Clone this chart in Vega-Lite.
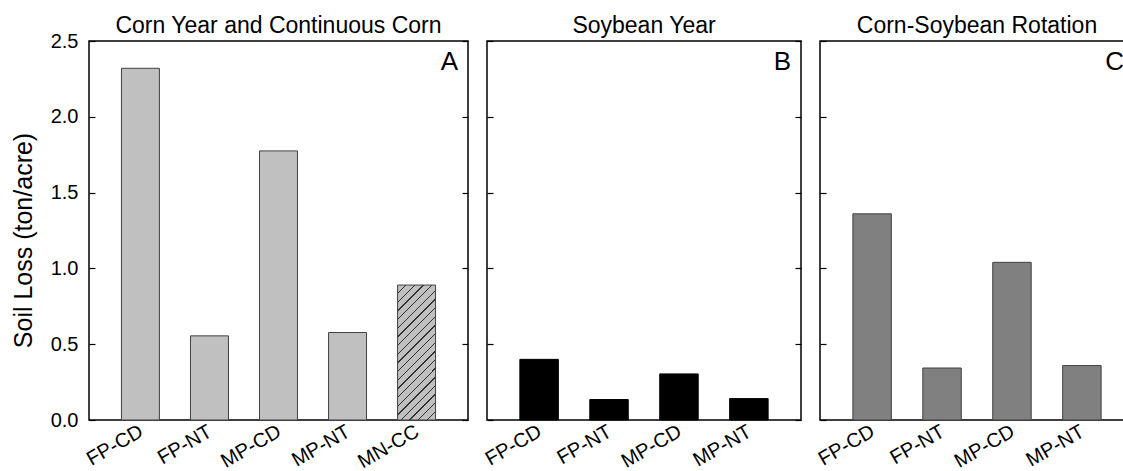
{
  "$schema": "https://vega.github.io/schema/vega-lite/v6.json",
  "padding": {"left": 10, "top": 14, "right": 0, "bottom": 0},
  "bounds": "flush",
  "spacing": 19,
  "config": {
    "font": "Liberation Sans",
    "view": {"stroke": "black", "strokeWidth": 1.5},
    "axis": {"grid": false, "domain": false, "labelColor": "black", "tickColor": "black", "tickWidth": 1.2, "labelFont": "Liberation Sans", "titleFont": "Liberation Sans"},
    "axisX": {"labelAngle": -30, "labelFontSize": 20, "ticks": false, "labelPadding": 1, "labelOffset": -4, "title": null},
    "title": {"fontSize": 23, "fontWeight": "normal", "font": "Liberation Sans", "color": "black", "offset": -7, "baseline": "alphabetic", "frame": "group"}
  },
  "datasets": {
    "soil": [
      {"panel": "A", "treatment": "FP-CD", "loss": 2.32},
      {"panel": "A", "treatment": "FP-NT", "loss": 0.555},
      {"panel": "A", "treatment": "MP-CD", "loss": 1.775},
      {"panel": "A", "treatment": "MP-NT", "loss": 0.577},
      {"panel": "A", "treatment": "MN-CC", "loss": 0.89},
      {"panel": "B", "treatment": "FP-CD", "loss": 0.40},
      {"panel": "B", "treatment": "FP-NT", "loss": 0.135},
      {"panel": "B", "treatment": "MP-CD", "loss": 0.304},
      {"panel": "B", "treatment": "MP-NT", "loss": 0.141},
      {"panel": "C", "treatment": "FP-CD", "loss": 1.36},
      {"panel": "C", "treatment": "FP-NT", "loss": 0.343},
      {"panel": "C", "treatment": "MP-CD", "loss": 1.04},
      {"panel": "C", "treatment": "MP-NT", "loss": 0.359}
    ]
  },
  "hconcat": [
    {
      "width": 379, "height": 379,
      "title": {"text": "Corn Year and Continuous Corn"},
      "layer": [
        {
          "data": {"name": "soil"},
          "transform": [{"filter": "datum.panel === 'A'"}],
          "mark": {"type": "bar", "stroke": "#404040", "strokeWidth": 1},
          "encoding": {
            "x": {"field": "treatment", "type": "nominal", "sort": null, "scale": {"paddingInner": 0.45, "paddingOuter": 0.47}, "axis": {"title": null}},
            "y": {"field": "loss", "type": "quantitative", "scale": {"domain": [0, 2.5], "nice": false}, "axis": {"title": "Soil Loss (ton/acre)", "titleFontSize": 25, "titleFontWeight": "normal", "titleColor": "black", "titlePadding": 14, "titleY": 199, "labelFontSize": 20, "format": ".1f", "values": [0, 0.5, 1, 1.5, 2, 2.5], "tickSize": -6, "labelPadding": 17}},
            "fill": {
              "condition": {
                "test": "datum.treatment === 'MN-CC'",
                "value": {"gradient": "linear", "x1": 0, "y1": 0, "x2": 0.3343, "y2": 1.1875, "stops": [
                  {"offset": 0, "color": "#c0c0c0"},
                  {"offset": 0.046, "color": "#c0c0c0"}, {"offset": 0.046, "color": "#303030"}, {"offset": 0.054, "color": "#303030"}, {"offset": 0.054, "color": "#c0c0c0"},
                  {"offset": 0.096, "color": "#c0c0c0"}, {"offset": 0.096, "color": "#303030"}, {"offset": 0.104, "color": "#303030"}, {"offset": 0.104, "color": "#c0c0c0"},
                  {"offset": 0.146, "color": "#c0c0c0"}, {"offset": 0.146, "color": "#303030"}, {"offset": 0.154, "color": "#303030"}, {"offset": 0.154, "color": "#c0c0c0"},
                  {"offset": 0.196, "color": "#c0c0c0"}, {"offset": 0.196, "color": "#303030"}, {"offset": 0.204, "color": "#303030"}, {"offset": 0.204, "color": "#c0c0c0"},
                  {"offset": 0.246, "color": "#c0c0c0"}, {"offset": 0.246, "color": "#303030"}, {"offset": 0.254, "color": "#303030"}, {"offset": 0.254, "color": "#c0c0c0"},
                  {"offset": 0.296, "color": "#c0c0c0"}, {"offset": 0.296, "color": "#303030"}, {"offset": 0.304, "color": "#303030"}, {"offset": 0.304, "color": "#c0c0c0"},
                  {"offset": 0.346, "color": "#c0c0c0"}, {"offset": 0.346, "color": "#303030"}, {"offset": 0.354, "color": "#303030"}, {"offset": 0.354, "color": "#c0c0c0"},
                  {"offset": 0.396, "color": "#c0c0c0"}, {"offset": 0.396, "color": "#303030"}, {"offset": 0.404, "color": "#303030"}, {"offset": 0.404, "color": "#c0c0c0"},
                  {"offset": 0.446, "color": "#c0c0c0"}, {"offset": 0.446, "color": "#303030"}, {"offset": 0.454, "color": "#303030"}, {"offset": 0.454, "color": "#c0c0c0"},
                  {"offset": 0.496, "color": "#c0c0c0"}, {"offset": 0.496, "color": "#303030"}, {"offset": 0.504, "color": "#303030"}, {"offset": 0.504, "color": "#c0c0c0"},
                  {"offset": 0.546, "color": "#c0c0c0"}, {"offset": 0.546, "color": "#303030"}, {"offset": 0.554, "color": "#303030"}, {"offset": 0.554, "color": "#c0c0c0"},
                  {"offset": 0.596, "color": "#c0c0c0"}, {"offset": 0.596, "color": "#303030"}, {"offset": 0.604, "color": "#303030"}, {"offset": 0.604, "color": "#c0c0c0"},
                  {"offset": 0.646, "color": "#c0c0c0"}, {"offset": 0.646, "color": "#303030"}, {"offset": 0.654, "color": "#303030"}, {"offset": 0.654, "color": "#c0c0c0"},
                  {"offset": 0.696, "color": "#c0c0c0"}, {"offset": 0.696, "color": "#303030"}, {"offset": 0.704, "color": "#303030"}, {"offset": 0.704, "color": "#c0c0c0"},
                  {"offset": 0.746, "color": "#c0c0c0"}, {"offset": 0.746, "color": "#303030"}, {"offset": 0.754, "color": "#303030"}, {"offset": 0.754, "color": "#c0c0c0"},
                  {"offset": 0.796, "color": "#c0c0c0"}, {"offset": 0.796, "color": "#303030"}, {"offset": 0.804, "color": "#303030"}, {"offset": 0.804, "color": "#c0c0c0"},
                  {"offset": 0.846, "color": "#c0c0c0"}, {"offset": 0.846, "color": "#303030"}, {"offset": 0.854, "color": "#303030"}, {"offset": 0.854, "color": "#c0c0c0"},
                  {"offset": 0.896, "color": "#c0c0c0"}, {"offset": 0.896, "color": "#303030"}, {"offset": 0.904, "color": "#303030"}, {"offset": 0.904, "color": "#c0c0c0"},
                  {"offset": 0.946, "color": "#c0c0c0"}, {"offset": 0.946, "color": "#303030"}, {"offset": 0.954, "color": "#303030"}, {"offset": 0.954, "color": "#c0c0c0"},
                  {"offset": 1, "color": "#c0c0c0"}
                ]}
              },
              "value": "#c0c0c0"
            }
          }
        },
        {
          "data": {"values": [{"label": "A"}]},
          "mark": {"type": "text", "align": "right", "baseline": "top", "fontSize": 26, "dx": -10, "dy": 8, "color": "black"},
          "encoding": {
            "x": {"value": "width"},
            "y": {"datum": 2.5, "type": "quantitative", "axis": {"orient": "right", "labels": false, "title": null, "values": [0, 0.5, 1, 1.5, 2, 2.5], "tickSize": -6}},
            "text": {"field": "label", "type": "nominal"}
          }
        }
      ],
      "resolve": {"axis": {"y": "independent"}}
    },
    {
      "width": 314, "height": 379,
      "title": {"text": "Soybean Year"},
      "layer": [
        {
          "data": {"name": "soil"},
          "transform": [{"filter": "datum.panel === 'B'"}],
          "mark": {"type": "bar", "fill": "black", "stroke": "black", "strokeWidth": 1},
          "encoding": {
            "x": {"field": "treatment", "type": "nominal", "sort": null, "scale": {"paddingInner": 0.45, "paddingOuter": 0.47}, "axis": {"title": null}},
            "y": {"field": "loss", "type": "quantitative", "scale": {"domain": [0, 2.5], "nice": false}, "axis": {"title": null, "labelOpacity": 0, "labelFontSize": 20, "format": ".1f", "labelPadding": 17, "values": [0, 0.5, 1, 1.5, 2, 2.5], "tickSize": -6}}
          }
        },
        {
          "data": {"values": [{"label": "B"}]},
          "mark": {"type": "text", "align": "right", "baseline": "top", "fontSize": 26, "dx": -10, "dy": 8, "color": "black"},
          "encoding": {
            "x": {"value": "width"},
            "y": {"datum": 2.5, "type": "quantitative", "axis": {"orient": "right", "labels": false, "title": null, "values": [0, 0.5, 1, 1.5, 2, 2.5], "tickSize": -6}},
            "text": {"field": "label", "type": "nominal"}
          }
        }
      ],
      "resolve": {"axis": {"y": "independent"}}
    },
    {
      "width": 314, "height": 379,
      "title": {"text": "Corn-Soybean Rotation"},
      "layer": [
        {
          "data": {"name": "soil"},
          "transform": [{"filter": "datum.panel === 'C'"}],
          "mark": {"type": "bar", "fill": "#808080", "stroke": "#404040", "strokeWidth": 1},
          "encoding": {
            "x": {"field": "treatment", "type": "nominal", "sort": null, "scale": {"paddingInner": 0.45, "paddingOuter": 0.47}, "axis": {"title": null}},
            "y": {"field": "loss", "type": "quantitative", "scale": {"domain": [0, 2.5], "nice": false}, "axis": {"title": null, "labelOpacity": 0, "labelFontSize": 20, "format": ".1f", "labelPadding": 17, "values": [0, 0.5, 1, 1.5, 2, 2.5], "tickSize": -6}}
          }
        },
        {
          "data": {"values": [{"label": "C"}]},
          "mark": {"type": "text", "align": "right", "baseline": "top", "fontSize": 26, "dx": -10, "dy": 8, "color": "black"},
          "encoding": {
            "x": {"value": "width"},
            "y": {"datum": 2.5, "type": "quantitative", "axis": {"orient": "right", "labels": false, "title": null, "values": [0, 0.5, 1, 1.5, 2, 2.5], "tickSize": -6}},
            "text": {"field": "label", "type": "nominal"}
          }
        }
      ],
      "resolve": {"axis": {"y": "independent"}}
    }
  ]
}
